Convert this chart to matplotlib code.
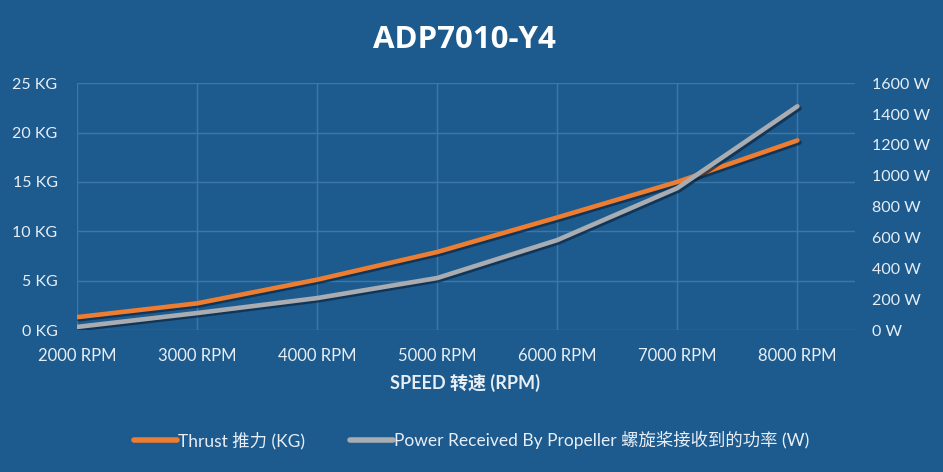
import matplotlib.pyplot as plt
import matplotlib.patheffects as pe

# chart data
speeds = ['2000 RPM', '3000 RPM', '4000 RPM', '5000 RPM', '6000 RPM', '7000 RPM', '8000 RPM']
thrust_kg = [1.3, 2.7, 5.1, 7.9, 11.4, 15.0, 19.2]
power_w = [20, 110, 207, 337, 583, 920, 1450]

kg_ticks = [0, 5, 10, 15, 20, 25]
w_ticks = [0, 200, 400, 600, 800, 1000, 1200, 1400, 1600]

bg = '#1d5b8f'
grid_col = '#3d77a8'
txt = '#e8eef5'
orange = '#ed7d31'
grey = '#a9acb0'

plt.rcParams['font.family'] = ['Lato', 'Noto Sans CJK SC', 'DejaVu Sans']

fig = plt.figure(figsize=(9.43, 4.72), dpi=100, facecolor=bg)
ax = fig.add_axes([0.0817, 0.3008, 0.825, 0.523], facecolor=bg)
ax2 = ax.twinx()

x = list(range(len(speeds)))
shadow = [pe.SimpleLineShadow(offset=(1.5, -1.5), shadow_color='#0b2540', alpha=0.7), pe.Normal()]

ax.plot(x, thrust_kg, color=orange, lw=3.3, solid_capstyle='round', path_effects=shadow, zorder=3)
ax2.plot(x, power_w, color=grey, lw=3.3, solid_capstyle='round', path_effects=shadow, zorder=3)

ax.set_xlim(0, 6.48)
ax.set_ylim(0, 25)
ax2.set_ylim(0, 1600)
ax.set_xticks(x)
ax.set_xticklabels(speeds)
ax.set_yticks(kg_ticks)
ax.set_yticklabels([f'{v} KG' for v in kg_ticks])
ax2.set_yticks(w_ticks)
ax2.set_yticklabels([f'{v} W' for v in w_ticks])

ax.grid(True, color=grid_col, lw=1)
ax.set_axisbelow(True)
for a in (ax, ax2):
    for s in a.spines.values():
        s.set_visible(False)
    a.tick_params(length=0, colors=txt, labelsize=11.5)
ax.tick_params(axis='x', pad=13, labelsize=12)
ax.tick_params(axis='y', pad=14)
ax2.tick_params(axis='y', pad=12)

fig.text(0.493, 0.915, 'ADP7010-Y4', color='white', fontsize=22.5, fontweight='bold',
         ha='center', va='center', family=['Open Sans', 'DejaVu Sans'])
fig.text(0.493, 0.188, 'SPEED 转速 (RPM)', color=txt, fontsize=13, fontweight='bold',
         ha='center', va='center')

leg = fig.legend(handles=[ax.lines[0], ax2.lines[0]],
                 labels=['Thrust 推力 (KG)', 'Power Received By Propeller 螺旋桨接收到的功率 (W)'],
                 loc='center', bbox_to_anchor=(0.5, 0.068), ncol=2, frameon=False,
                 fontsize=12.5, handlelength=2.5, handletextpad=0.05, columnspacing=2.6)
for t in leg.get_texts():
    t.set_color(txt)
for h in leg.legend_handles:
    h.set_path_effects([])
    h.set_linewidth(4)

fig.savefig('out.png', dpi=100, facecolor=bg)
